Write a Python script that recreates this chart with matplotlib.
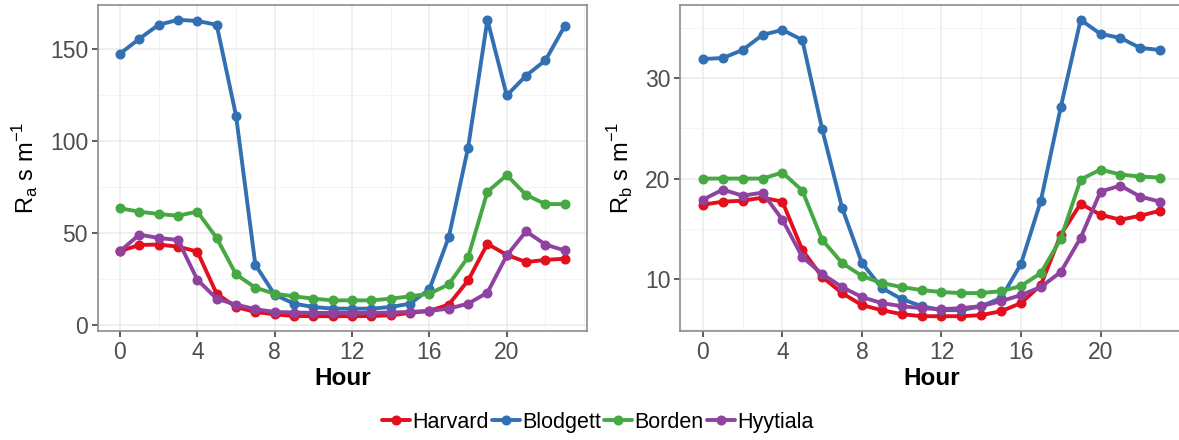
import matplotlib
matplotlib.use("Agg")
import matplotlib.pyplot as plt
from matplotlib.ticker import MultipleLocator

hours = list(range(24))
sites = ["Harvard", "Blodgett", "Borden", "Hyytiala"]
colors = ["#E2101D", "#3270B3", "#46A843", "#8F429F"]

ra_harvard = [40.2, 43.6, 43.8, 42.7, 40.0, 17.1, 9.9, 7.2, 5.9, 5.0, 4.9, 4.9,
              4.9, 5.0, 5.4, 6.7, 7.8, 11.2, 24.3, 44.2, 38.2, 34.3, 35.5, 36.1]
ra_blodgett = [147.5, 155.6, 163.2, 165.9, 165.3, 163.2, 113.9, 32.8, 16.6, 11.7, 9.9, 9.0,
               9.0, 9.0, 9.9, 11.7, 19.5, 47.8, 96.4, 165.9, 124.8, 135.6, 143.9, 162.6]
ra_borden = [63.5, 61.7, 60.4, 59.5, 61.7, 47.4, 27.6, 20.4, 17.1, 15.7, 14.4, 13.5,
             13.5, 13.5, 14.4, 15.7, 17.1, 22.2, 37.0, 72.5, 81.5, 70.8, 65.8, 65.8]
ra_hyytiala = [40.2, 49.2, 47.4, 46.3, 24.7, 14.4, 11.2, 8.7, 7.2, 6.9, 6.7, 6.7,
               6.7, 6.7, 6.9, 7.2, 7.8, 9.0, 11.7, 17.7, 37.9, 51.0, 43.8, 40.6]

rb_harvard = [17.4, 17.7, 17.8, 18.1, 17.7, 12.9, 10.2, 8.6, 7.4, 6.9, 6.5, 6.3,
              6.3, 6.3, 6.4, 6.8, 7.6, 9.4, 14.4, 17.5, 16.4, 15.9, 16.3, 16.8]
rb_blodgett = [31.9, 32.0, 32.8, 34.3, 34.8, 33.8, 24.9, 17.1, 11.6, 9.1, 8.0, 7.3,
               6.9, 6.9, 7.3, 8.1, 11.5, 17.8, 27.1, 35.8, 34.4, 34.0, 33.0, 32.8]
rb_borden = [20.0, 20.0, 20.0, 20.0, 20.6, 18.8, 13.9, 11.6, 10.3, 9.6, 9.2, 8.9,
             8.7, 8.6, 8.6, 8.8, 9.3, 10.6, 14.0, 19.9, 20.9, 20.4, 20.2, 20.1]
rb_hyytiala = [17.9, 18.9, 18.3, 18.6, 15.9, 12.2, 10.5, 9.2, 8.2, 7.6, 7.3, 7.1,
               7.0, 7.1, 7.3, 7.8, 8.4, 9.2, 10.7, 14.1, 18.7, 19.3, 18.2, 17.7]

xticks = [0, 4, 8, 12, 16, 20]

plt.rcParams["font.family"] = ["Liberation Sans", "DejaVu Sans"]

fig = plt.figure(figsize=(11.79, 4.40), dpi=100)
ax1 = fig.add_axes([0.0829, 0.2477, 0.4150, 0.7409])
ax2 = fig.add_axes([0.5768, 0.2477, 0.4266, 0.7409])

def style(ax, series, ylabel, major, minor):
    for s, c, lab in zip(series, colors, sites):
        ax.plot(hours, s, color=c, lw=2.8, marker="o", ms=6.2, label=lab,
                solid_capstyle="round", solid_joinstyle="round", zorder=3)
    allv = [v for s in series for v in s]
    lo, hi = min(allv), max(allv)
    pad = (hi - lo) * 0.05
    ax.set_ylim(lo - pad, hi + pad)
    ax.set_xlim(-1.15, 24.15)
    ax.set_xticks(xticks)
    ax.xaxis.set_minor_locator(MultipleLocator(2))
    ax.yaxis.set_major_locator(MultipleLocator(major))
    ax.yaxis.set_minor_locator(MultipleLocator(minor))
    ax.grid(which="major", color="#EBEBEB", lw=1.1, zorder=0)
    ax.grid(which="minor", color="#F2F2F2", lw=0.6, zorder=0)
    ax.set_axisbelow(True)
    for sp in ax.spines.values():
        sp.set_color("#8C8C8C")
        sp.set_linewidth(1.2)
    ax.tick_params(which="major", length=4, width=1.1, color="#333333",
                   labelsize=16.5, labelcolor="#4D4D4D", pad=3)
    ax.tick_params(which="minor", length=0)
    ax.set_xlabel("Hour", fontsize=17.5, fontweight="bold", labelpad=2)
    ax.set_ylabel(ylabel, fontsize=17, labelpad=6)

style(ax1, [ra_harvard, ra_blodgett, ra_borden, ra_hyytiala],
      r"R$_\mathregular{a}$ s m$^\mathregular{-1}$", 50, 25)
style(ax2, [rb_harvard, rb_blodgett, rb_borden, rb_hyytiala],
      r"R$_\mathregular{b}$ s m$^\mathregular{-1}$", 10, 5)

handles, labels = ax1.get_legend_handles_labels()
fig.legend(handles, labels, loc="center", bbox_to_anchor=(0.507, 0.04), ncol=4,
           frameon=False, fontsize=15.5, handlelength=1.3, handletextpad=0.1,
           columnspacing=0.15, borderaxespad=0)

fig.savefig("out.png", dpi=100)
